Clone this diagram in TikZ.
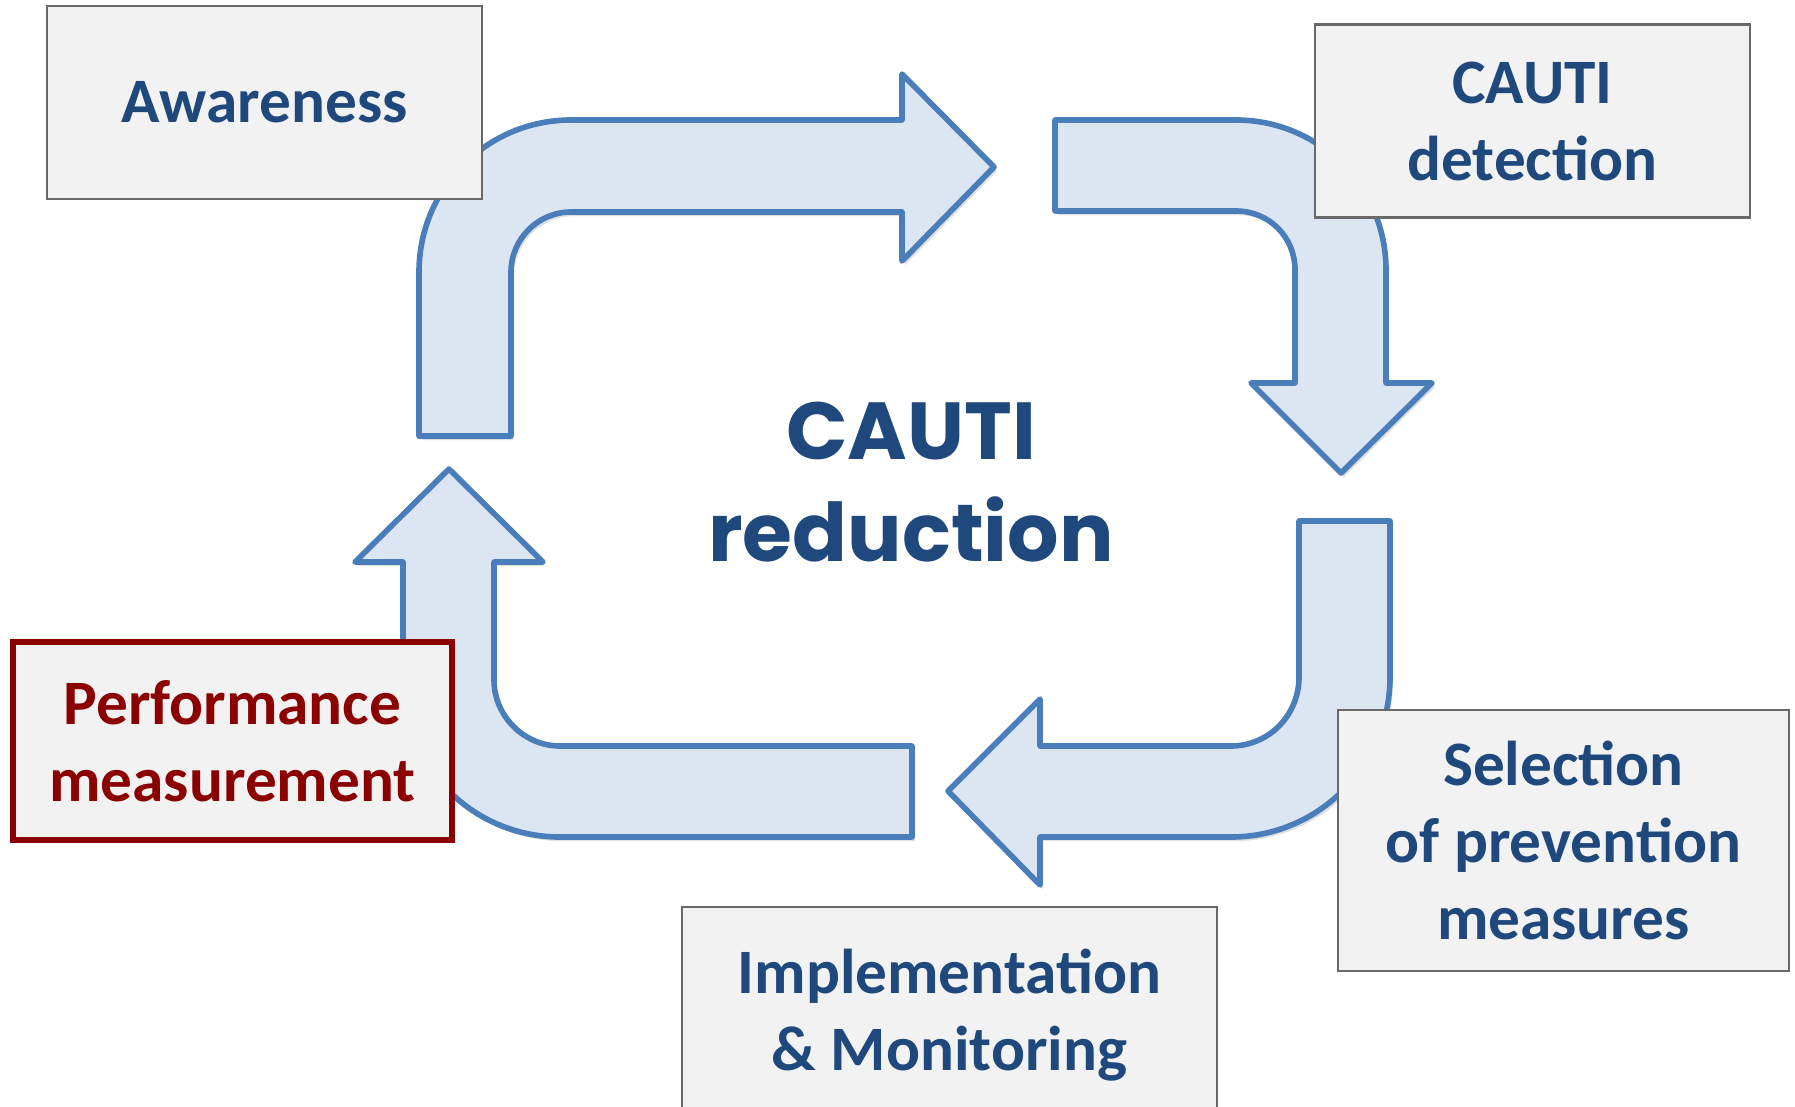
\documentclass[tikz,border=0pt]{standalone}
\usepackage{fontspec}
\setmainfont{Carlito}
\newfontfamily\poppins{Poppins}
\usetikzlibrary{shadows}
\definecolor{textblue}{RGB}{31,73,125}
\definecolor{darkred}{RGB}{139,0,0}
\definecolor{arrowline}{RGB}{74,126,187}
\definecolor{arrowfill}{RGB}{220,230,242}
\definecolor{boxfill}{RGB}{242,242,242}
\definecolor{boxline}{RGB}{105,105,105}

\begin{document}
\begin{tikzpicture}[x=0.01cm, y=-0.01cm,
		bigarrow/.style={draw=arrowline, fill=arrowfill, line width=1.6pt, line join=round,
			drop shadow={shadow xshift=0.8pt, shadow yshift=-1.2pt, opacity=0.25}},
		stagebox/.style={draw=boxline, fill=boxfill, line width=0.7pt, align=center, text=textblue,
			inner sep=0pt, font=\fontsize{18}{21.9}\selectfont\bfseries}]
			\clip (0,0) rectangle (1795,1106);
			
			% Awareness -> detection
			\draw[bigarrow] (419,436) -- (419,272) .. controls (419,188) and (487,120) .. (571,120)
				-- (902,120) -- (902,74) -- (994,167) -- (902,261) -- (902,212)
				-- (571,212) .. controls (538,212) and (511,239) .. (511,272) -- (511,436) -- cycle;
			
			% detection -> selection
			\draw[bigarrow] (1055,120) -- (1236,120) .. controls (1319,120) and (1386,187) .. (1386,270)
				-- (1386,383) -- (1432,383) -- (1341,473) -- (1251,383) -- (1295,383)
				-- (1295,270) .. controls (1295,237) and (1269,211) .. (1236,211) -- (1055,211) -- cycle;
			
			% selection -> implementation
			\draw[bigarrow] (1299,521) -- (1390,521) -- (1390,677) .. controls (1390,765) and (1319,837) .. (1231,837)
				-- (1040,837) -- (1040,885) -- (948,791) -- (1040,699) -- (1040,746)
				-- (1231,746) .. controls (1269,746) and (1299,715) .. (1299,677) -- cycle;
			
			% implementation -> measurement
			\draw[bigarrow] (912,746) -- (912,837) -- (560,837) .. controls (473,837) and (403,767) .. (403,680)
				-- (403,562) -- (355,562) -- (449,469) -- (543,562) -- (494,562)
				-- (494,680) .. controls (494,716) and (524,746) .. (560,746) -- cycle;
			
			% stages
			\node[stagebox, minimum width=4.35cm, minimum height=1.93cm] (aware) at (264.5,102.5) {Awareness};
			\node[stagebox, minimum width=4.35cm, minimum height=1.93cm] (detect) at (1532.5,121) {CAUTI\\detection};
			\node[stagebox, minimum width=4.51cm, minimum height=2.61cm] (select) at (1563.5,840.5) {Selection\\of prevention\\measures};
			\node[stagebox, minimum width=5.35cm, minimum height=2.16cm] (implement) at (949.5,1015) {Implementation\\\& Monitoring};
			\node[stagebox, draw=darkred, text=darkred, line width=1.7pt, minimum width=4.39cm, minimum height=1.98cm] (perform) at (232.5,741) {Performance\\measurement};
			
			% centre
			\node[align=center, text=textblue, font=\poppins\fontsize{23}{29}\selectfont\bfseries] (goal) at (911,482) {CAUTI\\reduction};
		\end{tikzpicture}
\end{document}
